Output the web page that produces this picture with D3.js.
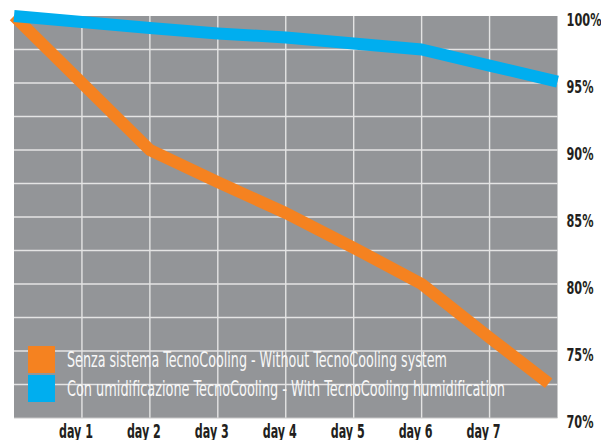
<!DOCTYPE html>
<html>
<head>
<meta charset="utf-8">
<script src="https://cdn.jsdelivr.net/npm/d3@7"></script>
<style>
  body { margin: 0; background: #fff; }
  text { font-family: "Liberation Sans Narrow", "DejaVu Sans Condensed", "Roboto Condensed", sans-serif; font-stretch: condensed; }
</style>
</head>
<body>
<div id="chart"></div>
<script>
// Chart data
var dayLabels = ["day 1", "day 2", "day 3", "day 4", "day 5", "day 6", "day 7"];
var dayTicks = [1, 2, 3, 4, 5, 6, 7];
var yTicks = [70, 75, 80, 85, 90, 95, 100];
var seriesNames = [
  "Senza sistema TecnoCooling - Without TecnoCooling system",
  "Con umidificazione TecnoCooling - With TecnoCooling humidification"
];
var withoutX = [0, 1, 2, 3, 4, 5, 6, 7, 7.87];
var withoutValues = [100, 95, 90, 87.6, 85.3, 82.7, 80, 76, 72.6];
var withX = [0, 1, 2, 3, 4, 5, 6, 7, 8];
var withValues = [100, 99.55, 99.1, 98.7, 98.4, 97.95, 97.5, 96.3, 95.1];
var colors = ["#f58220", "#00aeef"];

// Set svg Width and Height
var svgWidth = 601;
var svgHeight = 440;

var margin = { top: 16, right: 43.5, bottom: 22, left: 14 };
var width = svgWidth - margin.left - margin.right;
var height = svgHeight - margin.top - margin.bottom;

var svg = d3.select("#chart")
  .append("svg")
  .attr("width", svgWidth)
  .attr("height", svgHeight);

var chartGroup = svg.append("g")
  .attr("transform", `translate(${margin.left}, ${margin.top})`);

// Scales
var xScale = d3.scaleLinear().domain([0, 8]).range([0, width]);
var yScale = d3.scaleLinear().domain([70, 100]).range([height, 0]);

// Plot background
chartGroup.append("rect")
  .attr("width", width)
  .attr("height", height)
  .attr("fill", "#939598");

// Gridlines
chartGroup.selectAll(".hgrid")
  .data(d3.range(72.5, 100, 2.5))
  .enter()
  .append("line")
  .attr("x1", 0)
  .attr("x2", width)
  .attr("y1", d => yScale(d))
  .attr("y2", d => yScale(d))
  .attr("stroke", "#e4e4e4")
  .attr("stroke-width", 1.4);

chartGroup.selectAll(".vgrid")
  .data(dayTicks)
  .enter()
  .append("line")
  .attr("x1", d => xScale(d))
  .attr("x2", d => xScale(d))
  .attr("y1", 0)
  .attr("y2", height)
  .attr("stroke", "#e4e4e4")
  .attr("stroke-width", 1.4);

chartGroup.append("line")
  .attr("x1", 0).attr("x2", width)
  .attr("y1", height).attr("y2", height)
  .attr("stroke", "#c8c8c8")
  .attr("stroke-width", 1.2);

// Lines
var line = d3.line()
  .x(d => xScale(d[0]))
  .y(d => yScale(d[1]));

var series = [d3.zip(withoutX, withoutValues), d3.zip(withX, withValues)];

chartGroup.selectAll(".series")
  .data(series)
  .enter()
  .append("path")
  .attr("d", line)
  .attr("fill", "none")
  .attr("stroke", (d, i) => colors[i])
  .attr("stroke-width", 12)
  .attr("stroke-linejoin", "round");

// Legend
var legend = chartGroup.selectAll(".legend")
  .data(seriesNames)
  .enter()
  .append("g")
  .attr("transform", (d, i) => `translate(14, ${330 + i * 29})`);

legend.append("rect")
  .attr("width", 27)
  .attr("height", 27)
  .attr("fill", (d, i) => colors[i]);

legend.append("text")
  .attr("x", 39)
  .attr("y", 21)
  .attr("fill", "#f7f7f7")
  .attr("font-size", 22)
  .attr("textLength", (d, i) => i == 0 ? 380 : 438)
  .attr("lengthAdjust", "spacingAndGlyphs")
  .text(d => d);

// Axes
var bottomAxis = d3.axisBottom(xScale)
  .tickValues(dayTicks)
  .tickSize(0)
  .tickFormat((d, i) => dayLabels[i]);

var rightAxis = d3.axisRight(yScale)
  .tickValues(yTicks)
  .tickSize(0)
  .tickFormat(d => d + "%");

var xAxisGroup = chartGroup.append("g")
  .attr("transform", `translate(0, ${height})`)
  .call(bottomAxis);

xAxisGroup.selectAll("text")
  .attr("x", -6.5)
  .attr("y", 0)
  .attr("dy", 0)
  .attr("transform", "translate(0, 20)")
  .attr("font-size", 20)
  .attr("font-weight", "bold")
  .attr("fill", "#231f20")
  .attr("textLength", 34)
  .attr("lengthAdjust", "spacingAndGlyphs");

var yAxisGroup = chartGroup.append("g")
  .attr("transform", `translate(${width}, 0)`)
  .call(rightAxis);

yAxisGroup.selectAll("text")
  .attr("x", 9)
  .attr("dy", 0)
  .attr("transform", "translate(0, 9)")
  .attr("text-anchor", "start")
  .attr("font-size", 18)
  .attr("font-weight", "bold")
  .attr("fill", "#231f20")
  .attr("textLength", d => d == 100 ? 35 : 27)
  .attr("lengthAdjust", "spacingAndGlyphs");

chartGroup.selectAll(".domain").remove();
</script>
</body>
</html>
